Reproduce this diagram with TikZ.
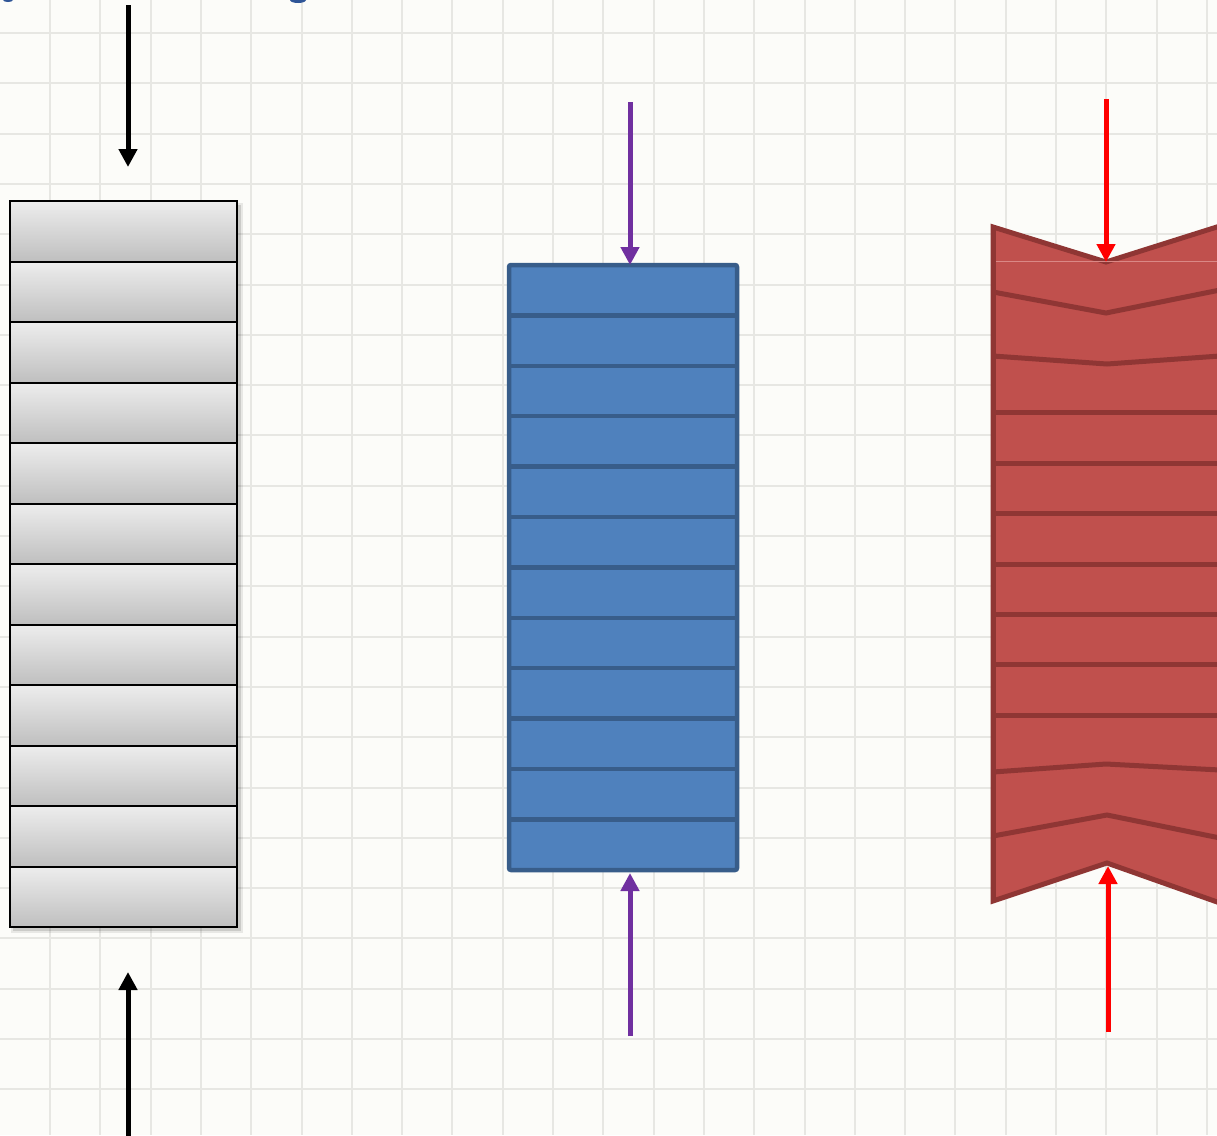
\documentclass[tikz,border=0pt]{standalone}
\usetikzlibrary{arrows.meta}
\definecolor{bg}{HTML}{FCFCF9}
\definecolor{gridc}{HTML}{E7E7E3}
\definecolor{graytop}{HTML}{EDEDED}
\definecolor{graybot}{HTML}{BFBFBF}
\definecolor{bluefill}{HTML}{4F81BD}
\definecolor{blueedge}{HTML}{385D8A}
\definecolor{redfill}{HTML}{C0504D}
\definecolor{rededge}{HTML}{8F3634}
\definecolor{redlight}{HTML}{DA8885}
\definecolor{purp}{HTML}{7030A0}
\definecolor{titleblue}{HTML}{2F5597}
\begin{document}
\begin{tikzpicture}[x=1pt,y=-1pt,
  arr/.style={line width=5pt,-{Triangle[width=18pt,length=18pt]}},
  gridline/.style={gridc,line width=2pt},
  stackbox/.style={inner sep=0pt,outer sep=0pt,anchor=north west},
  redline/.style={rededge,line width=5pt,line join=miter}]
\useasboundingbox (0,0) rectangle (1217,1135);
\clip (0,0) rectangle (1217,1135);
\fill[bg] (0,0) rectangle (1217,1135);
% grid
\foreach \i in {0,...,23} \draw[gridline] ({50+50.3*\i},0) -- ++(0,1135);
\foreach \i in {0,...,22} \draw[gridline] (0,{33+50.3*\i}) -- ++(1217,0);
% title fragments (cut off at top)
\fill[titleblue] (8,0) ellipse (5pt and 2pt);
\fill[titleblue] (298,0) ellipse (8pt and 3pt);

% ---------- gray stack ----------
\fill[black,opacity=0.12] (13,205) rectangle (241,931);
\fill[black,opacity=0.08] (11,203) rectangle (243,933);
\node[stackbox,minimum width=227pt,minimum height=726pt] (gray) at (10,201) {};
\foreach \k in {0,...,11}
  \shade[top color=graytop,bottom color=graybot] (10,{201+60.5*\k}) rectangle (237,{201+60.5*(\k+1)});
\foreach \k in {1,...,11}
  \draw[line width=2pt] (10,{201+60.5*\k}) -- (237,{201+60.5*\k});
\draw[line width=2pt] (gray.north west) rectangle (gray.south east);
\coordinate (gin) at (128,5);
\coordinate (gout) at (128,1140);
\coordinate (gtip) at (128,167);
\coordinate (gtipb) at (128,972);
\draw[arr] (gin) -- (gtip);
\draw[arr] (gout) -- (gtipb);

% ---------- blue stack ----------
\node[stackbox,minimum width=228pt,minimum height=605pt,fill=bluefill,draw=blueedge,line width=4.5pt,rounded corners=2pt] (blue) at (509,265) {};
\foreach \k in {1,...,11}
  \draw[blueedge,line width=4.5pt] (509,{265+50.4*\k}) -- (737,{265+50.4*\k});
\coordinate (bin) at (630,102);
\coordinate (bout) at (630,1036);
\draw[arr,purp] (bin) -- (blue.north -| bin);
\draw[arr,purp] (bout) -- ([yshift=-3pt]blue.south -| bout);

% ---------- red shape ----------
\filldraw[fill=redfill,draw=rededge,line width=5pt,line join=miter]
  (993,227) -- (1106,262) -- (1220,226) -- (1220,903) -- (1107,863) -- (993,901) -- cycle;
\draw[redlight,line width=1pt] (996,261) -- (1217,261);
\draw[redline] (993,292) -- (1106,313) -- (1220,290);
\draw[redline] (993,356) -- (1107,364) -- (1220,356);
\foreach \y in {412,463,513,564,614,664,715}
  \draw[redline] (993,\y) -- (1220,\y);
\draw[redline] (993,772) -- (1106,764) -- (1220,770);
\draw[redline] (993,836) -- (1107,815) -- (1220,838);
\draw[rededge,line width=5pt] (993,227) -- (993,901);
\coordinate (rtop) at (1106,262);
\coordinate (rbot) at (1108,866);
\coordinate (rin) at (1106,99);
\coordinate (rout) at (1108,1032);
\draw[arr,red] (rin) -- (rtop);
\draw[arr,red] (rout) -- (rbot);
\end{tikzpicture}
\end{document}
